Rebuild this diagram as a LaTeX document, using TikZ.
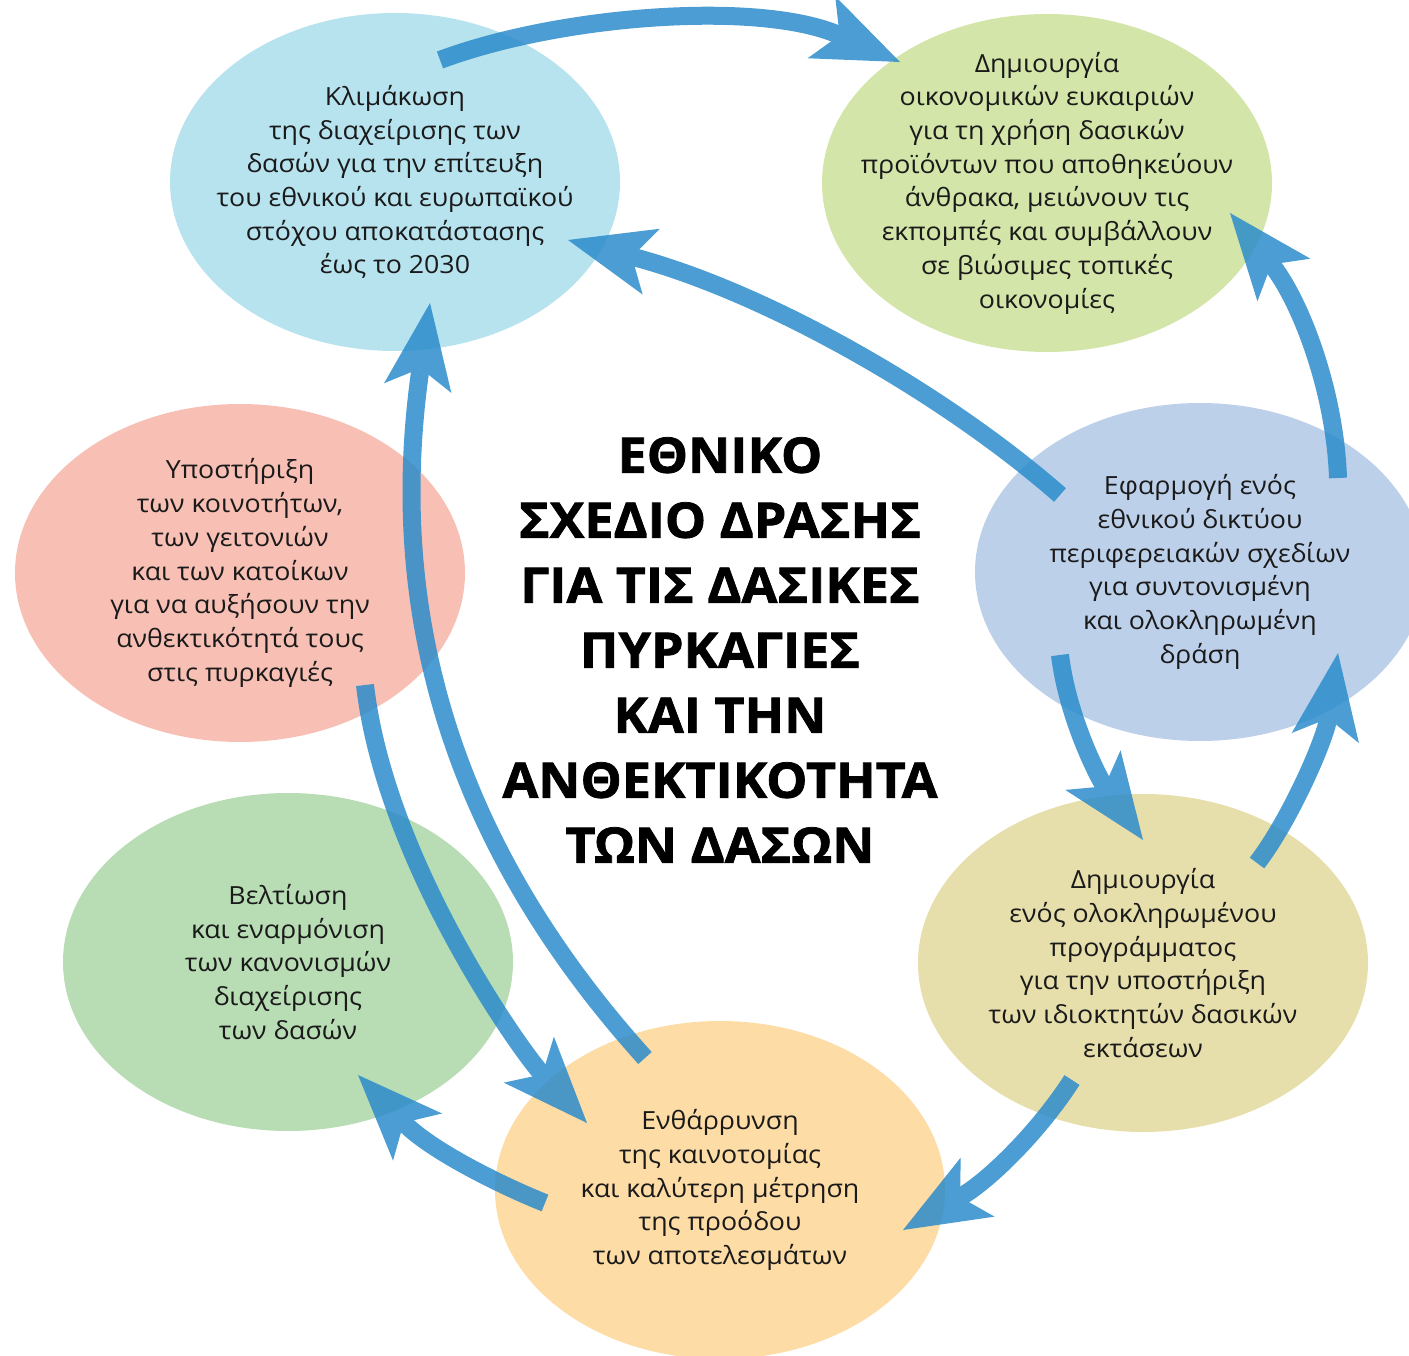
\documentclass[tikz,border=0pt]{standalone}
\usepackage{fontspec}
\setmainfont{Open Sans}[FakeStretch = 1.07]
\newfontfamily\headfont{Open Sans}[FakeStretch = 1.06, FakeBold = 1.5]
\usetikzlibrary{shapes.geometric, arrows.meta, calc}

\definecolor{skyfill}{HTML}{B7E3EF}
\definecolor{limefill}{HTML}{D4E5A9}
\definecolor{lilacfill}{HTML}{BDD0EA}
\definecolor{sandfill}{HTML}{E7DFAB}
\definecolor{peachfill}{HTML}{FDDCA6}
\definecolor{sagefill}{HTML}{B8DCB4}
\definecolor{rosefill}{HTML}{F8C0B5}
\definecolor{flowblue}{HTML}{2B8CCB}
\definecolor{inktext}{HTML}{1A1A1A}

\begin{document}
\begin{tikzpicture}[
    x = 1pt, y = -1pt,
    action/.style = {ellipse,
      minimum width = 450pt,
      minimum height = 338pt,
      inner sep = -60pt,
      align = center,
      text = inktext,
      font = \fontsize{25}{33.7}\selectfont},
    flow/.style = {line width = 18pt,
      draw = flowblue,
      -{Stealth[length = 86pt, width = 68pt, inset = 20pt, line width = 0pt]}}
    ]

    \useasboundingbox (0, 0) rectangle (1409, 1356);

    \node at (395, 182) [action, fill = skyfill, name = klim] {Κλιμάκωση\\της διαχείρισης των\\δασών για την επίτευξη\\του εθνικού και ευρωπαϊκού\\στόχου αποκατάστασης\\έως το 2030};
    \node at (1047, 183) [action, fill = limefill, name = oikon] {Δημιουργία\\οικονομικών ευκαιριών\\για τη χρήση δασικών\\προϊόντων που αποθηκεύουν\\άνθρακα, μειώνουν τις\\εκπομπές και συμβάλλουν\\σε βιώσιμες τοπικές\\οικονομίες};
    \node at (1200, 572) [action, fill = lilacfill, name = diktyo] {Εφαρμογή ενός\\εθνικού δικτύου\\περιφερειακών σχεδίων\\για συντονισμένη\\και ολοκληρωμένη\\δράση};
    \node at (1143, 963) [action, fill = sandfill, name = prog] {Δημιουργία\\ενός ολοκληρωμένου\\προγράμματος\\για την υποστήριξη\\των ιδιοκτητών δασικών\\εκτάσεων};
    \node at (720, 1190) [action, fill = peachfill, name = kainot] {Ενθάρρυνση\\της καινοτομίας\\και καλύτερη μέτρηση\\της προόδου\\των αποτελεσμάτων};
    \node at (288, 962) [action, fill = sagefill, name = kanon] {Βελτίωση\\και εναρμόνιση\\των κανονισμών\\διαχείρισης\\των δασών};
    \node at (240, 573) [action, fill = rosefill, name = koin] {Υποστήριξη\\των κοινοτήτων,\\των γειτονιών\\και των κατοίκων\\για να αυξήσουν την\\ανθεκτικότητά τους\\στις πυρκαγιές};

    \node at (720, 650) [align = center, font = \headfont\bfseries\fontsize{49}{65}\selectfont, name = title] {ΕΘΝΙΚΟ\\ΣΧΕΔΙΟ ΔΡΑΣΗΣ\\ΓΙΑ ΤΙΣ ΔΑΣΙΚΕΣ\\ΠΥΡΚΑΓΙΕΣ\\ΚΑΙ ΤΗΝ\\ΑΝΘΕΚΤΙΚΟΤΗΤΑ\\ΤΩΝ ΔΑΣΩΝ};

    \begin{scope}[transparency group, opacity = 0.85]
    \draw [flow] ($(klim) + (45, -122)$) .. controls +(120, -45) and +(-140, -62) .. ($(oikon) + (-147, -121)$);
    \draw [flow] ($(diktyo) + (-140, -77)$) .. controls +(-120, -105) and +(192, 50) .. ($(klim) + (173, 58)$);
    \draw [flow] ($(diktyo) + (138, -94)$) .. controls +(-3, -88) and +(70, 87) .. ($(oikon) + (183, 30)$);
    \draw [flow] ($(diktyo) + (-140, 83)$) .. controls +(8, 65) and +(-43, -60) .. ($(prog) + (0, -123)$);
    \draw [flow] ($(prog) + (114, -100)$) .. controls +(33, -43) and +(-13, 87) .. ($(diktyo) + (138, 81)$);
    \draw [flow] ($(prog) + (-71, 117)$) .. controls +(-32, 50) and +(87, -50) .. ($(kainot) + (183, 40)$);
    \draw [flow] ($(kainot) + (-175, 13)$) .. controls +(-45, -18) and +(72, 75) .. ($(kanon) + (70, 113)$);
    \draw [flow] ($(koin) + (125, 112)$) .. controls +(20, 175) and +(-67, -73) .. ($(kainot) + (-133, -67)$);
    \draw [flow] ($(kainot) + (-75, -132)$) .. controls +(-215, -238) and +(-40, 277) .. ($(klim) + (35, 121)$);
    \end{scope}

  \end{tikzpicture}
\end{document}
